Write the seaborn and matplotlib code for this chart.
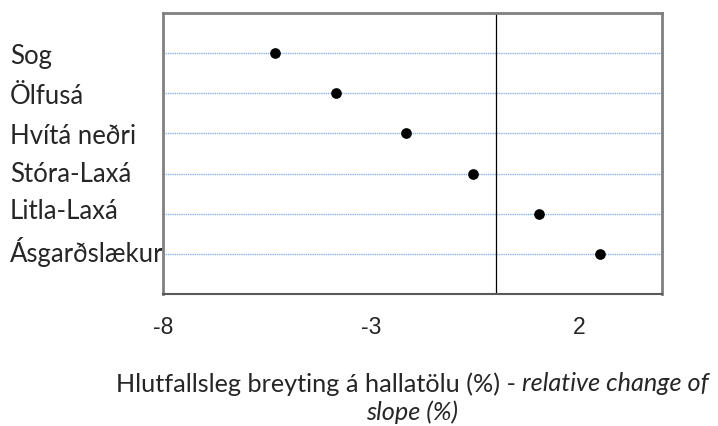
import matplotlib
matplotlib.use('Agg')
import matplotlib.pyplot as plt
import matplotlib.transforms as mtransforms
import pandas as pd
import seaborn as sns

# rivers and relative change of slope (%)
rivers = ['Sog', 'Ölfusá', 'Hvítá neðri', 'Stóra-Laxá', 'Litla-Laxá', 'Ásgarðslækur']
change = [-5.3, -3.85, -2.15, -0.55, 1.05, 2.5]
xticks = [-8, -3, 2]

df = pd.DataFrame({'river': rivers, 'change': change})

sns.set_style('white')
plt.rcParams['font.family'] = ['Lato', 'DejaVu Sans']

fig = plt.figure(figsize=(7.18, 4.27), dpi=100)
ax = fig.add_axes([163/718, 1 - 295/427, (662-163)/718, (295-14)/427])

# dotted blue gridlines behind the points
for i in range(len(rivers)):
    ax.axhline(i, color='#8fb2ea', lw=1.0, ls=(0, (1.0, 0.6)), zorder=0, snap=True)
ax.axvline(0, color='black', lw=0.9, zorder=1)

sns.stripplot(data=df, x='change', y='river', order=rivers, jitter=False,
              color='black', size=7.7, ax=ax, zorder=3)

ax.set_xlim(-8, 4)
ax.set_ylim(len(rivers), -1)
ax.set_xticks(xticks)
ax.set_xticklabels([str(t) for t in xticks], fontsize=16.5, family='Liberation Sans')
ax.tick_params(axis='x', direction='out', length=4, width=1, color='#7f7f7f', pad=11)
# labels start near the left edge of the figure (pad in points)
ax.tick_params(axis='y', length=0, pad=(163 - 10) * 0.72, labelsize=18.5)
# the lower labels sit a little above their gridlines in the original
lift = [0, 0, 0, 3, 6, 5]
for lab, d in zip(ax.get_yticklabels(), lift):
    lab.set_ha('left')
    lab.set_transform(lab.get_transform() + mtransforms.ScaledTranslation(0, d / 100, fig.dpi_scale_trans))
ax.set_xlabel('')
ax.set_ylabel('')

for side in ['left', 'right', 'top']:
    ax.spines[side].set_color('#808080')
    ax.spines[side].set_linewidth(2)
ax.spines['bottom'].set_color('#595959')
ax.spines['bottom'].set_linewidth(1.5)

# x label with an italic english part
fig.canvas.draw()
r = fig.canvas.get_renderer()
cx = (163 + 662) / 2 / 718
fs = 18.2
t1 = fig.text(0, 1 - 384/427, 'Hlutfallsleg breyting á hallatölu (%) - ', fontsize=fs, va='center')
t2 = fig.text(0, 1 - 384/427, 'relative change of', fontsize=fs, style='italic', va='center')
w1 = t1.get_window_extent(r).width / 718
w2 = t2.get_window_extent(r).width / 718
x0 = cx - (w1 + w2) / 2
t1.set_x(x0)
t2.set_x(x0 + w1)
fig.text(cx, 1 - 412/427, 'slope (%)', fontsize=fs, style='italic', va='center', ha='center')

fig.savefig('out.png', dpi=100)
